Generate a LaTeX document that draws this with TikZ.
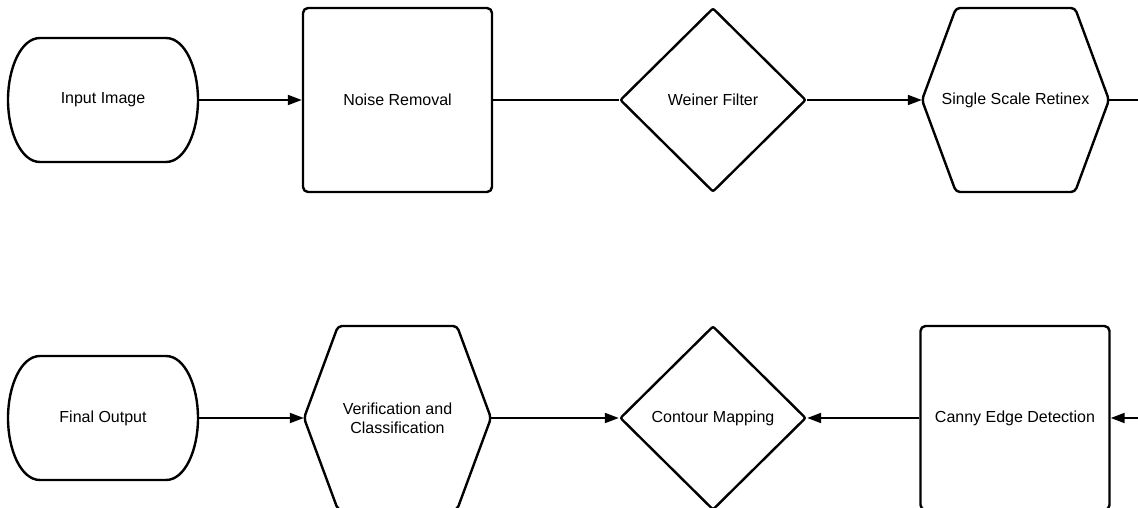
\documentclass[tikz,border=0pt]{standalone}
\usepackage{fontspec}
\setmainfont{Liberation Sans}
\usetikzlibrary{shapes.geometric,arrows.meta}

\begin{document}
\begin{tikzpicture}[x=1pt,y=-1pt,
    outline/.style={line width=2.4pt, line join=round},
    flow/.style={line width=2pt},
    arrowflow/.style={flow, -{Triangle[length=14pt,width=10pt]}},
    label/.style={font=\fontsize{16}{19}\selectfont, align=center, inner sep=0pt},
    stepbox/.style={label, draw, outline, rounded corners=5pt, minimum width=189pt, minimum height=184pt},
    decision/.style={label, draw, outline, diamond, rounded corners=2pt, minimum width=186pt, minimum height=184pt},
    terminal/.style={label, minimum width=190pt, minimum height=124pt},
    hexslot/.style={label, minimum width=187pt, minimum height=184pt}]

    \useasboundingbox (0,0) rectangle (1138,508);

    % these are the nodes of the top row
    \node[terminal] (input) at (103,100) {Input Image};
    \node[stepbox] (noise) at (397.5,100) {Noise Removal};
    \node[decision] (weiner) at (713,100) {Weiner Filter};
    \node[hexslot] (retinex) at (1015.5,100) {Single Scale Retinex};

    % these are the nodes of the bottom row
    \node[terminal] (output) at (103,418) {Final Output};
    \node[hexslot] (verify) at (397.5,418) {Verification and\\Classification};
    \node[decision] (contour) at (713,418) {Contour Mapping};
    \node[stepbox] (canny) at (1015,418) {Canny Edge Detection};

    \coordinate (topend) at (1138,100);
    \coordinate (botend) at (1138,418);

    % outlines of the terminals and hexagons
    \draw[outline] (40,38) -- (166,38) .. controls (185,38) and (198,68) .. (198,100)
        .. controls (198,132) and (185,162) .. (166,162) -- (40,162)
        .. controls (21,162) and (8,132) .. (8,100) .. controls (8,68) and (21,38) .. (40,38) -- cycle;
    \draw[outline] (40,356) -- (166,356) .. controls (185,356) and (198,386) .. (198,418)
        .. controls (198,450) and (185,480) .. (166,480) -- (40,480)
        .. controls (21,480) and (8,450) .. (8,418) .. controls (8,386) and (21,356) .. (40,356) -- cycle;
    \draw[outline, rounded corners=4pt] (922,100) -- (956,8) -- (1075,8) -- (1109,100) -- (1075,192) -- (956,192) -- cycle;
    \draw[outline, rounded corners=4pt] (304,418) -- (338,326) -- (457,326) -- (491,418) -- (457,510) -- (338,510) -- cycle;

    % connectors
    \draw[arrowflow] (input.east) -- (noise.west);
    \draw[flow] (noise.east) -- (weiner.west);
    \draw[arrowflow] (weiner.east) -- (retinex.west);
    \draw[flow] (retinex.east) -- (topend);
    \draw[arrowflow] (output.east) -- (verify.west);
    \draw[arrowflow] (verify.east) -- (contour.west);
    \draw[arrowflow] (canny.west) -- (contour.east);
    \draw[arrowflow] (botend) -- (canny.east);

\end{tikzpicture}
\end{document}
